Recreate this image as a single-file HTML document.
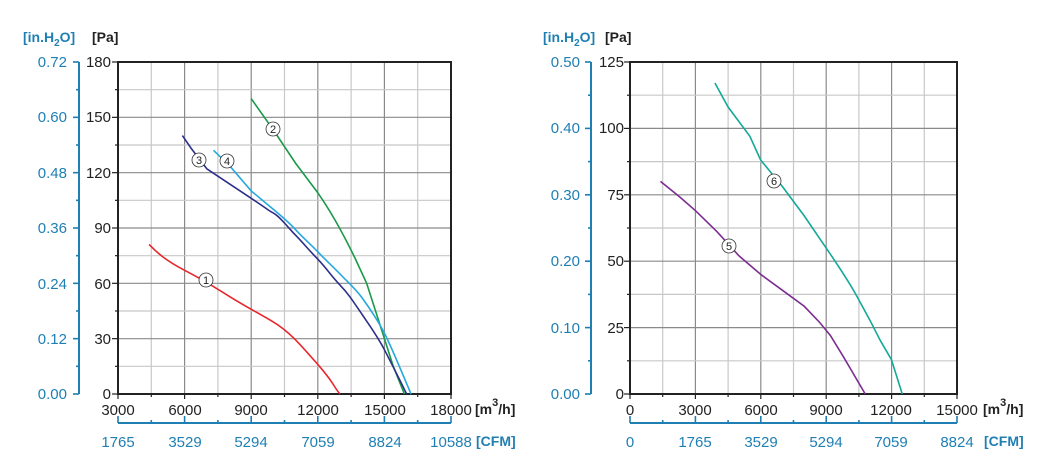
<!DOCTYPE html>
<html><head><meta charset="utf-8"><style>
html,body{margin:0;padding:0;background:#fff;}
svg{display:block;font-family:"Liberation Sans",sans-serif;}
.t{font-size:15px;fill:#222;}
.b{font-size:15px;fill:#1f7fb3;}
.bb{font-size:14px;font-weight:bold;fill:#1f7fb3;}
.kb{font-size:14px;font-weight:bold;fill:#222;}
</style></head><body>
<svg id="s" width="1062" height="476" viewBox="0 0 1062 476">
<g id="grid"></g>
<!-- LEFT chart curves -->
<g transform="translate(118,394) scale(0.0222,-1.8461) translate(-3000,0)" fill="none" stroke-width="1.6">
<path vector-effect="non-scaling-stroke" stroke="#e8262b" d="M4400,81 C4800,76 5200,72 6000,67 S7200,59 8000,53 S9300,44 10000,39 S11200,27 12000,16 S12700,4 13000,0"/>
<path vector-effect="non-scaling-stroke" stroke="#1a9a48" d="M9000,160 L10000,143 L11000,125 L12000,109 C12700,97 13300,83 13700,73 L14200,60 L14600,45 L15000,30 L15400,15 L15900,0"/>
<path vector-effect="non-scaling-stroke" stroke="#2b2f8a" d="M5900,140 L6300,133 L7000,122 C7500,118 8000,114 9000,106 S9700,100 10000,98 S10600,91 11000,86 S11600,78 12000,73 S12600,64 13000,59 S13600,50 14000,43 S14700,31 15000,24 S15600,10 16000,0"/>
<path vector-effect="non-scaling-stroke" stroke="#25a8e0" d="M7300,132 L8000,124 L9000,110 C9500,105 9800,102 10000,100 S10700,93 11000,89 S11600,82 12000,77 S12600,70 13000,65 S13700,57 14000,52 S14700,40 15000,33 S15600,17 16200,0"/>
</g>
<!-- RIGHT chart curves -->
<g transform="translate(630,394) scale(0.02178,-2.6584)" fill="none" stroke-width="1.6">
<path vector-effect="non-scaling-stroke" stroke="#14a898" d="M3900,117 L4500,108 L5500,97 L6000,88 L7000,78 L8000,67 L9000,55 C9500,49 10000,43 10400,37 L11000,28 L11500,20 L12000,13 L12500,0"/>
<path vector-effect="non-scaling-stroke" stroke="#7b2d91" d="M1400,80 L2300,74 L3000,69 L4000,61 L5000,52 L6000,45 L7000,39 L8000,33 L8700,27 L9200,22 L9800,14 L10300,7 L10800,0"/>
</g>
<g id="lab" font-size="12" text-anchor="middle" fill="#222"></g>
<!-- left texts -->
<text x="23" y="42" class="bb">[in.H<tspan font-size="10" dy="4">2</tspan><tspan dy="-4">O]</tspan></text>
<text x="92" y="42" class="kb">[Pa]</text>
<g class="b" text-anchor="end">
<text x="67" y="67">0.72</text><text x="67" y="122">0.60</text><text x="67" y="178">0.48</text><text x="67" y="233">0.36</text><text x="67" y="289">0.24</text><text x="67" y="344">0.12</text><text x="67" y="399">0.00</text>
</g>
<g class="t" text-anchor="end">
<text x="111" y="67">180</text><text x="111" y="122">150</text><text x="111" y="178">120</text><text x="111" y="233">90</text><text x="111" y="289">60</text><text x="111" y="344">30</text><text x="111" y="399">0</text>
</g>
<g class="t" text-anchor="middle">
<text x="118" y="415">3000</text><text x="185" y="415">6000</text><text x="251" y="415">9000</text><text x="318" y="415">12000</text><text x="385" y="415">15000</text><text x="451" y="415">18000</text>
</g>
<text x="475" y="414" class="kb">[m<tspan font-size="11" dy="-8">3</tspan><tspan dy="8">/h]</tspan></text>
<g class="b" text-anchor="middle">
<text x="118" y="447">1765</text><text x="185" y="447">3529</text><text x="251" y="447">5294</text><text x="318" y="447">7059</text><text x="385" y="447">8824</text><text x="451" y="447">10588</text>
</g>
<text x="476" y="446" class="bb">[CFM]</text>
<!-- right texts -->
<text x="543" y="42" class="bb">[in.H<tspan font-size="10" dy="4">2</tspan><tspan dy="-4">O]</tspan></text>
<text x="605" y="42" class="kb">[Pa]</text>
<g class="b" text-anchor="end">
<text x="580" y="67">0.50</text><text x="580" y="133">0.40</text><text x="580" y="200">0.30</text><text x="580" y="266">0.20</text><text x="580" y="333">0.10</text><text x="580" y="399">0.00</text>
</g>
<g class="t" text-anchor="end">
<text x="624" y="67">125</text><text x="624" y="133">100</text><text x="624" y="200">75</text><text x="624" y="266">50</text><text x="624" y="333">25</text><text x="624" y="399">0</text>
</g>
<g class="t" text-anchor="middle">
<text x="630" y="415">0</text><text x="695" y="415">3000</text><text x="761" y="415">6000</text><text x="826" y="415">9000</text><text x="891" y="415">12000</text><text x="957" y="415">15000</text>
</g>
<text x="983" y="414" class="kb">[m<tspan font-size="11" dy="-8">3</tspan><tspan dy="8">/h]</tspan></text>
<g class="b" text-anchor="middle">
<text x="630" y="447">0</text><text x="695" y="447">1765</text><text x="761" y="447">3529</text><text x="826" y="447">5294</text><text x="891" y="447">7059</text><text x="957" y="447">8824</text>
</g>
<text x="984" y="446" class="bb">[CFM]</text>
<!-- circled labels -->
<g font-size="11" text-anchor="middle" fill="#222">
<circle cx="206" cy="280" r="7" fill="#fff" stroke="#333" stroke-width="0.8"/><text x="206" y="284">1</text>
<circle cx="273" cy="129" r="7" fill="#fff" stroke="#333" stroke-width="0.8"/><text x="273" y="133">2</text>
<circle cx="199" cy="160" r="7" fill="#fff" stroke="#333" stroke-width="0.8"/><text x="199" y="164">3</text>
<circle cx="227" cy="161" r="7" fill="#fff" stroke="#333" stroke-width="0.8"/><text x="227" y="165">4</text>
<circle cx="774" cy="181" r="7" fill="#fff" stroke="#333" stroke-width="0.8"/><text x="774" y="185">6</text>
<circle cx="729" cy="246" r="7" fill="#fff" stroke="#333" stroke-width="0.8"/><text x="729" y="250">5</text>
</g>
</svg>
<script>
(function(){
var g=document.getElementById('grid'),NS='http://www.w3.org/2000/svg';
function L(x1,y1,x2,y2,c,w){var l=document.createElementNS(NS,'line');l.setAttribute('x1',x1);l.setAttribute('y1',y1);l.setAttribute('x2',x2);l.setAttribute('y2',y2);l.setAttribute('stroke',c);l.setAttribute('stroke-width',w);g.appendChild(l);}
function chart(x0,x1,y0,y1,nx,ny,bx){
 var dx=(x1-x0)/nx,dy=(y0-y1)/ny,i;
 for(i=1;i<nx;i++){var x=x0+i*dx;L(x,y1,x,y0,i%2?'#c8c8c8':'#8a8a8a',1.2);}
 for(i=1;i<ny;i++){var y=y0-i*dy;L(x0,y,x1,y,i%2?'#c8c8c8':'#8a8a8a',1.2);}
 for(i=0;i<=ny;i++){var y=y0-i*dy;L(x0-(i%2?3:6),y,x0,y,'#222',1.2);L(bx-(i%2?3:6),y,bx,y,'#1f7fb3',1.6);}
 for(i=0;i<=nx;i++){var x=x0+i*dx;L(x,y0,x,y0+(i%2?3:5),'#222',1.2);L(x,423,x,423-(i%2?3:7),'#1f7fb3',1.6);}
 L(bx,y1,bx,y0,'#1f7fb3',2);L(x0,423,x1,423,'#1f7fb3',2);
 var r=document.createElementNS(NS,'rect');r.setAttribute('x',x0);r.setAttribute('y',y1);r.setAttribute('width',x1-x0);r.setAttribute('height',y0-y1);r.setAttribute('fill','none');r.setAttribute('stroke','#222');r.setAttribute('stroke-width',2);g.appendChild(r);
}
chart(118,451,394,62,10,12,79);
chart(630,957,394,62,10,10,591);
})();
</script>
</body></html>
